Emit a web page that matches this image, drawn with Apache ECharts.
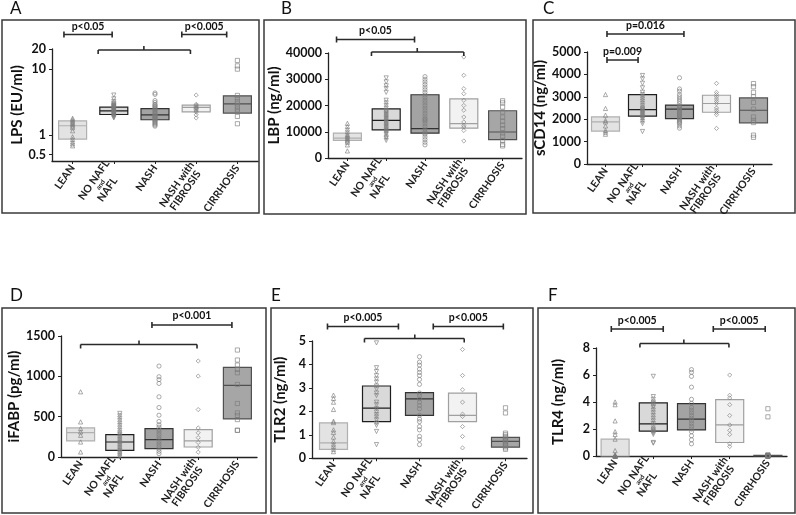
<!DOCTYPE html>
<html><head><meta charset="utf-8">
<script src="https://cdn.jsdelivr.net/npm/echarts@6/dist/echarts.min.js"></script>
<style>html,body{margin:0;padding:0;background:#fff}#c{width:796px;height:515px}</style>
</head><body><div id="c"></div>
<script>
const groups = ['LEAN', 'NO NAFL and NAFL', 'NASH', 'NASH with FIBROSIS', 'CIRRHOSIS'];

// Boxes per group: [Q1, median, Q3]
const lpsBoxes = [[0.86, 1.37, 1.63], [2.03, 2.31, 2.62], [1.69, 2.01, 2.5], [2.23, 2.6, 2.81], [2.13, 2.95, 3.9]];
const lpsLean = [1.78, 1.7, 1.62, 1.55, 1.48, 1.42, 1.35, 1.28, 1.15, 0.93, 0.85, 0.78, 0.73, 0.68];
const lpsNoNafl = [4.0, 3.5, 3.2, 3.0, 2.9, 2.8, 2.75, 2.7, 2.65, 2.6, 2.55, 2.5, 2.45, 2.4, 2.35, 2.3, 2.25, 2.2, 2.15, 2.1, 2.05, 2.0, 1.95, 1.9, 1.85, 1.8];
const lpsNash = [4.3, 4.1, 3.3, 3.1, 2.9, 2.8, 2.7, 2.6, 2.5, 2.4, 2.3, 2.2, 2.1, 2.0, 1.95, 1.9, 1.85, 1.8, 1.75, 1.7, 1.65, 1.6, 1.55, 1.5, 1.45, 1.4, 1.35];
const lpsNashF = [4.0, 2.9, 2.8, 2.7, 2.6, 2.55, 2.5, 2.4, 2.3, 2.2, 2.0, 1.8];
const lpsCirr = [13.4, 11.1, 9.9, 3.95, 3.6, 3.2, 2.95, 2.7, 2.45, 2.25, 1.9, 1.47];

const lbpBoxes = [[6700, 7600, 9500], [10700, 14300, 18700], [9500, 11200, 24100], [11400, 13100, 22500], [7000, 9900, 18000]];
const lbpLean = [13200, 12000, 11000, 10000, 9000, 8500, 8000, 7500, 7000, 6500, 6000, 5000, 2700];
const lbpNoNafl = [30500, 29000, 27500, 26500, 25000, 22000, 21000, 20000, 19000, 18000, 17500, 17000, 16500, 16000, 15500, 15000, 14500, 14000, 13500, 13000, 12500, 12000, 11500, 11000, 10500, 10000, 9500, 9000, 8000, 7500, 6700];
const lbpNash = [31000, 30000, 29000, 28000, 27000, 26000, 25000, 24000, 23000, 22000, 21000, 20000, 19000, 18000, 17000, 16000, 15000, 14500, 14000, 13000, 12000, 11000, 10000, 9500, 9000, 8000, 7000, 6000, 5000];
const lbpNashF = [38500, 31500, 26400, 24500, 22000, 20000, 18200, 15600, 13700, 12400, 11800, 10500, 6500];
const lbpCirr = [21800, 21000, 19400, 17500, 15600, 14000, 12500, 11200, 9500, 8300, 6700, 5200, 4600];

const cd14Boxes = [[1470, 1880, 2100], [2140, 2430, 3100], [2030, 2450, 2630], [2310, 2700, 3070], [1840, 2400, 2950]];
const cd14Lean = [3100, 2480, 2180, 1950, 1880, 1700, 1500, 1420, 1330];
const cd14NoNafl = [3950, 3800, 3600, 3400, 3200, 3100, 3000, 2900, 2800, 2700, 2600, 2500, 2450, 2400, 2350, 2300, 2250, 2200, 2150, 2100, 2050, 2000, 1900, 1800, 1450];
const cd14Nash = [3850, 3350, 3250, 3100, 3000, 2900, 2800, 2700, 2600, 2550, 2500, 2450, 2400, 2350, 2300, 2250, 2200, 2150, 2100, 2050, 2000, 1950, 1900, 1850, 1800, 1700, 1600];
const cd14NashF = [3600, 3200, 3100, 3000, 2900, 2800, 2700, 2500, 2400, 2300, 2200, 1590];
const cd14Cirr = [3590, 3450, 3200, 3000, 2750, 2450, 2100, 1950, 1850, 1290, 1190];

const fabpBoxes = [[199, 302, 360], [83, 186, 278], [104, 216, 352], [124, 199, 340], [472, 887, 1111]];
const fabpLean = [808, 435, 352, 311, 269, 186, 62];
const fabpNoNafl = [540, 510, 480, 450, 420, 390, 360, 330, 300, 280, 260, 240, 220, 200, 180, 160, 140, 120, 100, 80, 60, 40, 20, 0];
const fabpNash = [1127, 995, 960, 912, 746, 613, 518, 440, 400, 370, 340, 310, 280, 250, 220, 190, 160, 130, 100, 70, 41];
const fabpNashF = [1190, 1003, 588, 360, 300, 240, 180, 120, 60];
const fabpCirr = [1326, 1202, 1140, 1086, 1044, 899, 663, 547, 514, 464, 331, 331];

const tlr2Boxes = [[0.375, 0.65, 1.51], [1.56, 2.14, 3.08], [1.83, 2.53, 2.8], [1.56, 1.83, 2.78], [0.47, 0.72, 0.89]];
const tlr2Lean = [2.69, 2.55, 2.39, 2.08, 1.58, 1.52, 1.21, 1.1, 0.9, 0.72, 0.6, 0.5, 0.38, 0.28];
const tlr2NoNafl = [4.92, 3.86, 3.7, 3.52, 3.38, 3.25, 3.08, 2.95, 2.78, 2.67, 2.39, 2.28, 2.11, 1.97, 1.86, 1.76, 1.64, 1.5, 1.4, 1.14, 0.58];
const tlr2Nash = [4.33, 4.1, 3.97, 3.8, 3.66, 3.53, 3.36, 3.15, 2.78, 2.67, 2.53, 2.39, 2.25, 2.11, 1.83, 1.67, 1.56, 1.35, 1.21, 0.93, 0.79, 0.58];
const tlr2NashF = [4.64, 3.53, 2.92, 2.39, 1.88, 1.78, 1.35, 0.93, 0.44];
const tlr2Cirr = [2.15, 1.93, 1.07, 1.0, 0.93, 0.86, 0.79, 0.72, 0.65, 0.58, 0.51, 0.44, 0.38];

const tlr4Boxes = [[0, 0, 1.25], [1.85, 2.38, 3.93], [1.93, 2.73, 3.88], [1.0, 2.3, 4.18], [0, 0.02, 0.05]];
const tlr4Lean = [4.0, 3.8, 2.6, 1.8, 1.6, 1.25, 0.4, 0.1, 0, 0, 0, 0, 0, 0, 0, 0, 0, 0];
const tlr4NoNafl = [5.9, 4.4, 4.2, 4.0, 3.9, 3.7, 3.6, 3.4, 3.2, 3.0, 2.8, 2.6, 2.4, 2.2, 2.0, 1.9, 1.8, 1.7, 1.6, 1.0, 0.95];
const tlr4Nash = [6.4, 6.2, 5.9, 5.1, 4.2, 3.9, 3.6, 3.4, 3.2, 3.0, 2.8, 2.6, 2.4, 2.2, 2.0, 1.8, 1.5, 1.2, 0.9];
const tlr4NashF = [6.0, 4.5, 4.3, 3.8, 3.0, 2.3, 1.9, 1.6, 0.9, 0.7];
const tlr4Cirr = [3.5, 2.9, 0.1, 0, 0, 0, 0, 0, 0, 0, 0, 0, 0];

// y-axis tick labels
const lpsTicks = [0.5, 1, 10, 20];

// Significance annotations: [from group index, to group index, label]
const lpsSig = [[-0.21, 0.96, 'p<0.05'], [2.65, 3.74, 'p<0.005']];
const lbpSig = [[-0.28, 1.73, 'p<0.05']];
const cd14Sig = [[0.04, 2.12, 'p=0.016'], [0.04, 0.88, 'p=0.009']];
const fabpSig = [[1.82, 3.86, 'p<0.001']];
const tlr2Sig = [[-0.14, 1.51, 'p<0.005'], [2.32, 3.95, 'p<0.005']];
const tlr4Sig = [[-0.1, 1.26, 'p<0.005'], [2.57, 3.93, 'p<0.005']];
// Group brackets: [from, to, middle]
const lpsGroup = [0.62, 2.86, 1.73];
const lbpGroup = [0.62, 3.0, 1.8];
const fabpGroup = [0, 2.97, 1.49];
const tlr2Group = [0.72, 3.04, 1.89];
const tlr4Group = [0.65, 2.98, 1.8];

const panels = [
  {letter: 'A', name: 'LPS (EU/ml)', boxes: lpsBoxes, pts: [lpsLean, lpsNoNafl, lpsNash, lpsNashF, lpsCirr], log: true, min: 0.4, max: 20, ticks: lpsTicks, sig: lpsSig, group: lpsGroup},
  {letter: 'B', name: 'LBP (ng/ml)', boxes: lbpBoxes, pts: [lbpLean, lbpNoNafl, lbpNash, lbpNashF, lbpCirr], min: 0, max: 40000, interval: 10000, sig: lbpSig, group: lbpGroup},
  {letter: 'C', name: 'sCD14 (ng/ml)', boxes: cd14Boxes, pts: [cd14Lean, cd14NoNafl, cd14Nash, cd14NashF, cd14Cirr], min: 0, max: 5000, interval: 1000, sig: cd14Sig, group: null},
  {letter: 'D', name: 'iFABP (pg/ml)', boxes: fabpBoxes, pts: [fabpLean, fabpNoNafl, fabpNash, fabpNashF, fabpCirr], min: 0, max: 1500, interval: 500, sig: fabpSig, group: fabpGroup},
  {letter: 'E', name: 'TLR2 (ng/ml)', boxes: tlr2Boxes, pts: [tlr2Lean, tlr2NoNafl, tlr2Nash, tlr2NashF, tlr2Cirr], min: 0, max: 5, interval: 1, sig: tlr2Sig, group: tlr2Group},
  {letter: 'F', name: 'TLR4 (ng/ml)', boxes: tlr4Boxes, pts: [tlr4Lean, tlr4NoNafl, tlr4Nash, tlr4NashF, tlr4Cirr], min: 0, max: 8, interval: 2, sig: tlr4Sig, group: tlr4Group}
];

// ---------- layout & style ----------
const layout = [
  {grid: {left: 52, top: 49, width: 206, height: 112}, nameGap: 25, frame: [2, 20, 257, 193], letter: [10, 9], sigY: [34.5, 34.5], sigTextY: [26.5, 26.5], groupY: 50},
  {grid: {left: 328, top: 53, width: 194, height: 105}, nameGap: 36, frame: [264, 20, 262, 194], letter: [281, 9], sigY: [39.5], sigTextY: [30.5], groupY: 52},
  {grid: {left: 587, top: 52, width: 185, height: 112}, nameGap: 31, frame: [533, 20, 262, 193], letter: [543, 9], sigY: [34, 60], sigTextY: [26, 51.5], groupY: 0},
  {grid: {left: 61, top: 336, width: 196, height: 121}, nameGap: 39, frame: [2, 308, 264, 205], letter: [10, 296], sigY: [325], sigTextY: [316], groupY: 344.5},
  {grid: {left: 312, top: 341, width: 215, height: 120}, nameGap: 24, frame: [271, 308, 262, 205], letter: [271, 296], sigY: [326.5, 326.5], sigTextY: [317.5, 317.5], groupY: 338.5},
  {grid: {left: 596, top: 348, width: 191, height: 108}, nameGap: 30, frame: [538, 308, 257, 205], letter: [548, 296], sigY: [329, 329], sigTextY: [320.5, 320.5], groupY: 343.5}
];
const FONT = 'Lato, "Open Sans", sans-serif';
const boxFill = ['#e3e3e3', '#d9d9d9', '#a3a3a3', '#f2f2f2', '#a6a6a6'];
const boxBorder = ['#b0b0b0', '#1e1e1e', '#333333', '#a0a0a0', '#505050'];
const symbols = ['triangle', 'triangle', 'circle', 'diamond', 'rect'];
const symbolRot = [0, 180, 0, 0, 0];

function catLabel(v) {
  if (v === 'NO NAFL and NAFL') return '{b|NO NAFL}\n{s|and}\n{b|NAFL}';
  if (v === 'NASH with FIBROSIS') return '{b|NASH with}\n{b|FIBROSIS}';
  return '{b|' + v + '}';
}

const grids = [], xAxes = [], yAxes = [], series = [];
panels.forEach((p, k) => {
  const L = layout[k];
  grids.push(L.grid);
  xAxes.push({
    type: 'category', gridIndex: k, data: groups, boundaryGap: true,
    axisLine: {lineStyle: {color: '#222', width: 1.3}},
    axisTick: {show: true, alignWithLabel: true, length: 3, lineStyle: {color: '#222'}},
    axisLabel: {
      rotate: 55, margin: 5, interval: 0, formatter: catLabel,
      rich: {
        b: {fontFamily: FONT, fontWeight: 'bold', fontSize: 10.5, color: '#222', align: 'center', lineHeight: 10.5},
        s: {fontFamily: FONT, fontWeight: 'bold', fontSize: 6.5, color: '#222', align: 'center', lineHeight: 6}
      }
    },
    splitLine: {show: false}
  });
  const y = {
    gridIndex: k, min: p.min, max: p.max,
    name: p.name, nameLocation: 'middle', nameGap: L.nameGap, nameRotate: 90,
    nameTextStyle: {fontFamily: FONT, fontWeight: 'bold', fontSize: 15, color: '#111'},
    axisLine: {show: true, lineStyle: {color: '#222', width: 1.3}},
    axisTick: {show: true, length: 3, lineStyle: {color: '#222'}},
    axisLabel: {fontFamily: FONT, fontWeight: 'bold', fontSize: 12.5, color: '#111', margin: 6, formatter: v => String(v)},
    splitLine: {show: false}
  };
  if (p.log) {
    y.type = 'log'; y.logBase = 10;
    y.axisLabel.customValues = p.ticks;
    y.axisTick.customValues = p.ticks;
  } else {
    y.type = 'value'; y.interval = p.interval;
  }
  yAxes.push(y);
  series.push({
    type: 'boxplot', xAxisIndex: k, yAxisIndex: k, silent: true, boxWidth: [28, 28], z: 2,
    data: p.boxes.map((b, i) => ({value: [b[0], b[0], b[1], b[2], b[2]], itemStyle: {color: boxFill[i], borderColor: boxBorder[i], borderWidth: 1.2}}))
  });
  p.pts.forEach((arr, i) => {
    series.push({
      type: 'scatter', xAxisIndex: k, yAxisIndex: k, silent: true, z: 3,
      symbol: symbols[i], symbolRotate: symbolRot[i], symbolSize: 4.2,
      itemStyle: {color: 'rgba(255,255,255,0)', borderColor: '#7a7a7a', borderWidth: 0.8},
      data: arr.map(v => [i, v])
    });
  });
});

const chart = echarts.init(document.getElementById('c'), null, {renderer: 'canvas'});
chart.setOption({animation: false, backgroundColor: '#fff', grid: grids, xAxis: xAxes, yAxis: yAxes, series: series});

// annotations
const gfx = [];
const LC = '#2a2a2a';
function line(x1, y1, x2, y2) {
  gfx.push({type: 'line', silent: true, z: 10, shape: {x1, y1, x2, y2}, style: {stroke: LC, lineWidth: 1.6}});
}
panels.forEach((p, k) => {
  const L = layout[k];
  const p0 = chart.convertToPixel({xAxisIndex: k}, 0);
  const p1 = chart.convertToPixel({xAxisIndex: k}, 1);
  const cx = f => p0 + f * (p1 - p0);
  gfx.push({type: 'rect', silent: true, shape: {x: L.frame[0], y: L.frame[1], width: L.frame[2], height: L.frame[3]}, style: {fill: 'none', stroke: '#3a3a3a', lineWidth: 1.5}});
  gfx.push({type: 'text', silent: true, x: L.letter[0], y: L.letter[1], style: {text: p.letter, font: '17px ' + FONT, fill: '#111', verticalAlign: 'middle'}});
  p.sig.forEach((s, j) => {
    const x1 = cx(s[0]), x2 = cx(s[1]), yy = L.sigY[j];
    line(x1, yy, x2, yy); line(x1, yy - 3, x1, yy + 3); line(x2, yy - 3, x2, yy + 3);
    gfx.push({type: 'text', silent: true, x: (x1 + x2) / 2, y: L.sigTextY[j], style: {text: s[2], font: 'bold 10.5px ' + FONT, fill: '#111', align: 'center', verticalAlign: 'middle'}});
  });
  if (p.group) {
    const x1 = cx(p.group[0]), x2 = cx(p.group[1]), xm = cx(p.group[2]), yy = L.groupY;
    line(x1, yy, x2, yy); line(x1, yy, x1, yy + 4); line(x2, yy, x2, yy + 4); line(xm, yy, xm, yy - 4);
  }
});
chart.setOption({graphic: gfx});
</script>
</body></html>
